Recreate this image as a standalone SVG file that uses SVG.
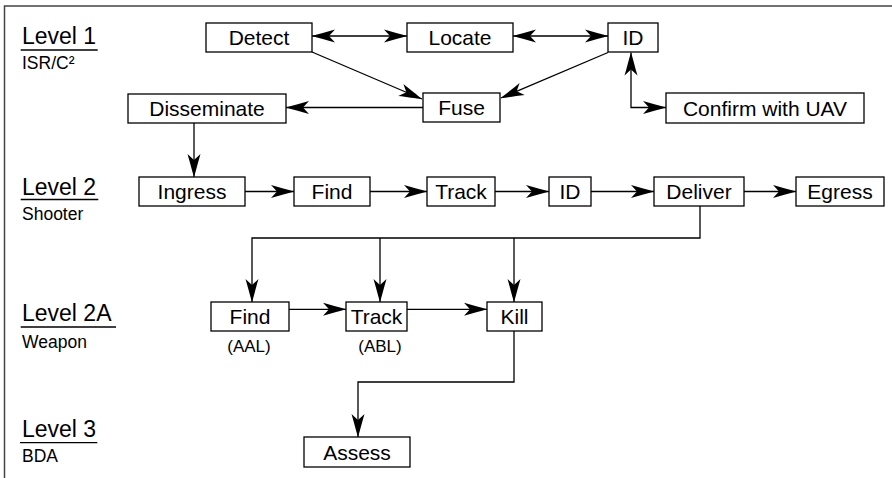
<svg xmlns="http://www.w3.org/2000/svg" width="892" height="478" viewBox="0 0 892 478">
<style>
.box{fill:#fff;stroke:#000;stroke-width:1.3}
.t{font-family:"Liberation Sans",Arial,sans-serif;font-size:21px;fill:#000;text-anchor:middle}
.lv{font-family:"Liberation Sans",Arial,sans-serif;font-size:23px;fill:#000}
.sub{font-family:"Liberation Sans",Arial,sans-serif;font-size:17.5px;fill:#000}
.note{font-family:"Liberation Sans",Arial,sans-serif;font-size:17px;fill:#000;text-anchor:middle}
.ul{stroke:#000;stroke-width:1.3}
.c{fill:none;stroke:#000;stroke-width:1.3}
</style>
<defs>
<marker id="ah" viewBox="-1 -8 25 16" refX="23" refY="0" markerWidth="25" markerHeight="16" markerUnits="userSpaceOnUse" orient="auto-start-reverse">
<path d="M23,0 C17,-2 8,-4 0,-6.5 L6,0 L0,6.5 C8,4 17,2 23,0 Z" fill="#000"/>
</marker>
</defs>
<rect width="892" height="478" fill="#fff"/>
<path d="M4.5,478 V6 H892" fill="none" stroke="#444" stroke-width="1.5"/>

<g id="labels">
<text class="lv" x="22" y="44">Level 1</text>
<line class="ul" x1="20.7" y1="50" x2="97.7" y2="50"/>
<text class="sub" x="22" y="69">ISR/C²</text>
<text class="lv" x="22" y="195">Level 2</text>
<line class="ul" x1="20.7" y1="199.5" x2="98.3" y2="199.5"/>
<text class="sub" x="22" y="220">Shooter</text>
<text class="lv" x="22" y="321">Level 2A</text>
<line class="ul" x1="20.7" y1="327" x2="116" y2="327"/>
<text class="sub" x="22" y="348">Weapon</text>
<text class="lv" x="22" y="437">Level 3</text>
<line class="ul" x1="20" y1="442.7" x2="97.3" y2="442.7"/>
<text class="sub" x="22" y="462">BDA</text>
</g>

<g id="connectors">
<path class="c" d="M312,36 H407" marker-start="url(#ah)" marker-end="url(#ah)"/>
<path class="c" d="M513,36 H608" marker-start="url(#ah)" marker-end="url(#ah)"/>
<path class="c" d="M312,52 L422,99" marker-end="url(#ah)"/>
<path class="c" d="M608,52.5 L501,98" marker-end="url(#ah)"/>
<path class="c" d="M423,107.5 H286" marker-end="url(#ah)"/>
<path class="c" d="M631,52.5 V107.5 H666" marker-start="url(#ah)" marker-end="url(#ah)"/>
<path class="c" d="M194,123 V177" marker-end="url(#ah)"/>
<path class="c" d="M245,191.5 H294" marker-end="url(#ah)"/>
<path class="c" d="M370,191.5 H427" marker-end="url(#ah)"/>
<path class="c" d="M495,191.5 H549" marker-end="url(#ah)"/>
<path class="c" d="M591,191.5 H654" marker-end="url(#ah)"/>
<path class="c" d="M744,191.5 H796" marker-end="url(#ah)"/>
<path class="c" d="M700,206 V238 H252 V302" marker-end="url(#ah)"/>
<path class="c" d="M380,238 V302" marker-end="url(#ah)"/>
<path class="c" d="M514,238 V302" marker-end="url(#ah)"/>
<path class="c" d="M289,309.3 H346" marker-end="url(#ah)"/>
<path class="c" d="M407,309.3 H487" marker-end="url(#ah)"/>
<path class="c" d="M514,331 V382 H358 V437" marker-end="url(#ah)"/>
</g>

<g id="detect"><rect class="box" x="206" y="23" width="106" height="29"/><text class="t" x="259" y="45">Detect</text></g>
<g id="locate"><rect class="box" x="407" y="23" width="106" height="29"/><text class="t" x="460" y="45">Locate</text></g>
<g id="id1"><rect class="box" x="608" y="23" width="50" height="29"/><text class="t" x="633" y="45">ID</text></g>
<g id="fuse"><rect class="box" x="423" y="93" width="77" height="29"/><text class="t" x="461.5" y="115">Fuse</text></g>
<g id="disseminate"><rect class="box" x="128" y="94" width="158" height="29"/><text class="t" x="207" y="116">Disseminate</text></g>
<g id="confirm"><rect class="box" x="666" y="93" width="198" height="30"/><text class="t" x="765" y="115.5">Confirm with UAV</text></g>
<g id="ingress"><rect class="box" x="139" y="177" width="106" height="29"/><text class="t" x="192" y="199">Ingress</text></g>
<g id="find1"><rect class="box" x="294" y="177" width="76" height="29"/><text class="t" x="332" y="199">Find</text></g>
<g id="track1"><rect class="box" x="427" y="177" width="68" height="29"/><text class="t" x="461" y="199">Track</text></g>
<g id="id2"><rect class="box" x="549" y="177" width="42" height="29"/><text class="t" x="570" y="199">ID</text></g>
<g id="deliver"><rect class="box" x="654" y="177" width="90" height="29"/><text class="t" x="699" y="199">Deliver</text></g>
<g id="egress"><rect class="box" x="796" y="177" width="88" height="29"/><text class="t" x="840" y="199">Egress</text></g>
<g id="find2"><rect class="box" x="211" y="302" width="78" height="29"/><text class="t" x="250" y="324">Find</text><text class="note" x="249" y="352">(AAL)</text></g>
<g id="track2"><rect class="box" x="346" y="302" width="61" height="29"/><text class="t" x="376.5" y="324">Track</text><text class="note" x="380" y="352">(ABL)</text></g>
<g id="kill"><rect class="box" x="487" y="302" width="55" height="29"/><text class="t" x="514.5" y="324">Kill</text></g>
<g id="assess"><rect class="box" x="304" y="437" width="106" height="30"/><text class="t" x="357" y="459.5">Assess</text></g>
</svg>
